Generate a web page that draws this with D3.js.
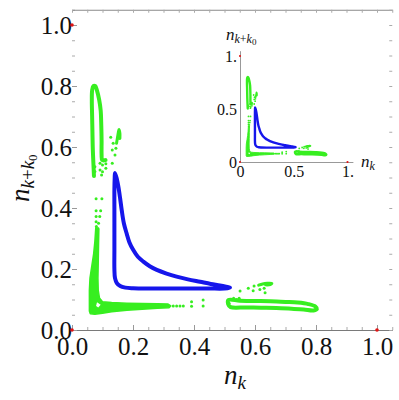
<!DOCTYPE html>
<html><head><meta charset="utf-8">
<script src="https://cdn.jsdelivr.net/npm/d3@7"></script>
<style>
body{margin:0;background:#fff}
svg text{font-family:"Liberation Serif","Times New Roman","DejaVu Serif",serif !important;fill:#111}
</style>
</head><body>
<svg id="chart" width="399" height="400"></svg>
<script>
// ---------- data ----------
const majorTicks = [0, 0.2, 0.4, 0.6, 0.8, 1.0];
const minorTicks = [0.05,0.1,0.15,0.25,0.3,0.35,0.45,0.5,0.55,0.65,0.7,0.75,0.85,0.9,0.95,1.05];
const insetTicks = [0, 0.5, 1];
const insetTickLabels = ["0", "0.5", "1."];

const redPoints = [[0,1],[0,0],[1,0]];

const blueLoop = [
  [0.141,0.515],[0.147,0.495],[0.152,0.470],[0.158,0.430],[0.163,0.393],[0.170,0.350],
  [0.179,0.317],[0.188,0.288],[0.201,0.262],[0.216,0.240],[0.234,0.224],[0.255,0.209],
  [0.278,0.197],[0.310,0.185],[0.343,0.175],[0.380,0.166],[0.420,0.158],[0.455,0.151],
  [0.485,0.146],[0.505,0.142],[0.518,0.139],
  [0.500,0.136],[0.450,0.136],[0.400,0.136],[0.350,0.136],[0.300,0.136],[0.250,0.136],
  [0.200,0.137],[0.175,0.139],[0.158,0.144],[0.147,0.154],[0.141,0.170],[0.139,0.200],
  [0.139,0.260],[0.139,0.330],[0.139,0.400],[0.139,0.460],[0.140,0.500]
];

const greenLoopUpper = [
  [0.072,0.505],[0.070,0.550],[0.068,0.600],[0.067,0.650],[0.066,0.700],[0.065,0.750],
  [0.066,0.785],[0.070,0.800],[0.076,0.800],[0.082,0.785],[0.089,0.755],[0.094,0.720],
  [0.096,0.670],[0.097,0.620],[0.097,0.575],[0.099,0.557],[0.110,0.557]
];

const greenLoopRight = [
  [0.513,0.098],[0.550,0.096],[0.600,0.095],[0.650,0.094],[0.700,0.092],[0.740,0.090],
  [0.775,0.085],[0.798,0.077],[0.803,0.069],[0.792,0.064],[0.760,0.067],[0.720,0.070],
  [0.670,0.072],[0.620,0.073],[0.570,0.074],[0.520,0.075],[0.512,0.085]
];

const greenBand = [
  [0.078,0.335],[0.088,0.330],[0.087,0.280],[0.086,0.220],[0.085,0.170],[0.086,0.130],
  [0.090,0.105],[0.100,0.093],[0.130,0.090],[0.180,0.088],[0.230,0.087],[0.280,0.086],
  [0.315,0.085],[0.324,0.079],[0.318,0.073],[0.280,0.071],[0.230,0.068],[0.180,0.065],
  [0.130,0.060],[0.100,0.055],[0.075,0.052],[0.060,0.053],[0.057,0.062],[0.057,0.090],
  [0.057,0.130],[0.059,0.170],[0.065,0.210],[0.071,0.250],[0.075,0.290]
];
const greenBandHole = [[0.082,0.091],[0.094,0.083],[0.086,0.074],[0.079,0.079]];

const greenArcUpper = [[0.146,0.612],[0.149,0.630],[0.152,0.648],[0.154,0.657],[0.157,0.645],[0.157,0.628]];
const greenArcRight = [[0.612,0.147],[0.625,0.151],[0.640,0.153],[0.655,0.153],[0.650,0.149],[0.635,0.148]];

const greenDots = [
  [0.075,0.535],[0.075,0.520],
  [0.092,0.547],[0.100,0.541],[0.092,0.525],[0.100,0.519],[0.097,0.508],[0.111,0.530],[0.111,0.545],
  [0.127,0.632],[0.135,0.612],[0.132,0.590],[0.144,0.596],[0.141,0.574],[0.132,0.547],
  [0.079,0.430],[0.098,0.430],[0.079,0.391],[0.094,0.391],[0.079,0.372],[0.091,0.372],
  [0.079,0.355],[0.087,0.350],[0.080,0.339],[0.085,0.333],
  [0.332,0.079],[0.343,0.079],[0.354,0.079],[0.365,0.079],[0.392,0.078],[0.392,0.093],
  [0.430,0.079],[0.430,0.098],
  [0.515,0.088],[0.522,0.100],[0.530,0.104],[0.540,0.100],[0.548,0.104],
  [0.551,0.128],[0.578,0.137],[0.597,0.144],[0.594,0.129],[0.616,0.133],[0.630,0.137],[0.633,0.122]
];

// ---------- drawing ----------
const GREEN = "rgb(55,238,32)";
const BLUE = "rgb(22,22,235)";
const RED = "rgb(225,20,20)";
const svg = d3.select("#chart");

function drawData(g, x, y, s) {
  const line = d3.line().x(d => x(d[0])).y(d => y(d[1]));
  g.append("path").datum(greenBand)
    .attr("d", line.curve(d3.curveLinearClosed))
    .attr("fill", GREEN).attr("stroke", GREEN).attr("stroke-width", 1.5*s).attr("stroke-linejoin","round");
  g.append("path").datum(greenBandHole)
    .attr("d", line.curve(d3.curveLinearClosed)).attr("fill", "#fff");
  g.append("path").datum(greenLoopUpper)
    .attr("d", line.curve(d3.curveCatmullRom.alpha(0.5)))
    .attr("fill", "none").attr("stroke", GREEN).attr("stroke-width", 4*s)
    .attr("stroke-linecap","round").attr("stroke-linejoin","round");
  g.append("path").datum(greenLoopRight)
    .attr("d", line.curve(d3.curveCatmullRomClosed.alpha(0.5)))
    .attr("fill", "none").attr("stroke", GREEN).attr("stroke-width", 4*s)
    .attr("stroke-linejoin","round");
  [greenArcUpper, greenArcRight].forEach(a => {
    g.append("path").datum(a)
      .attr("d", line.curve(d3.curveCatmullRom.alpha(0.5)))
      .attr("fill", "none").attr("stroke", GREEN).attr("stroke-width", 3*s)
      .attr("stroke-linecap","round");
  });
  g.selectAll(null).data(greenDots).enter().append("circle")
    .attr("cx", d => x(d[0])).attr("cy", d => y(d[1])).attr("r", 1.5*s).attr("fill", GREEN);
  g.append("path").datum(blueLoop)
    .attr("d", line.curve(d3.curveCatmullRomClosed.alpha(0.5)))
    .attr("fill", "none").attr("stroke", BLUE).attr("stroke-width", 4*s)
    .attr("stroke-linejoin","round");
  g.selectAll(null).data(redPoints).enter().append("circle")
    .attr("cx", d => x(d[0])).attr("cy", d => y(d[1])).attr("r", 1.8*s).attr("fill", RED);
}

// main scales
const x = d3.scaleLinear().domain([0, 1.05]).range([72, 72 + 1.05*305]);
const y = d3.scaleLinear().domain([0, 1.05]).range([330, 330 - 1.05*305]);

// bottom
const gB = svg.append("g").attr("transform", "translate(0,330)");
gB.call(d3.axisBottom(x).tickValues(majorTicks).tickFormat(d3.format(".1f"))
  .tickSize(-5).tickSizeOuter(0).tickPadding(7));
gB.select(".domain").attr("stroke", "#7a7a7a");
gB.selectAll(".tick line").attr("stroke", "#999");
gB.selectAll("text").attr("font-size", 25);
svg.append("g").attr("transform", "translate(0,330)")
  .call(d3.axisBottom(x).tickValues(minorTicks).tickFormat("").tickSize(-3).tickSizeOuter(0))
  .call(g => { g.select(".domain").remove(); g.selectAll("line").attr("stroke", "#aaa"); });

// left
const gL = svg.append("g").attr("transform", "translate(72,0)");
gL.call(d3.axisLeft(y).tickValues(majorTicks).tickFormat(d3.format(".1f"))
  .tickSize(-5).tickSizeOuter(0).tickPadding(0));
gL.select(".domain").remove();
gL.selectAll(".tick line").attr("stroke", "#999");
gL.selectAll("text").attr("font-size", 25);
svg.append("g").attr("transform", "translate(72,0)")
  .call(d3.axisLeft(y).tickValues(minorTicks).tickFormat("").tickSize(-3).tickSizeOuter(0))
  .call(g => { g.select(".domain").remove(); g.selectAll("line").attr("stroke", "#aaa"); });

// top
svg.append("g").attr("transform", `translate(0,${y(1.05)})`)
  .call(d3.axisTop(x).tickValues(majorTicks.concat(minorTicks)).tickFormat("").tickSize(-3).tickSizeOuter(0))
  .call(g => { g.select(".domain").attr("stroke", "#8a8a8a"); g.selectAll(".tick line").attr("stroke", "#aaa"); });

// right
svg.append("g").attr("transform", `translate(${x(1.05)},0)`)
  .call(d3.axisRight(y).tickValues(majorTicks.concat(minorTicks)).tickFormat("").tickSize(-3).tickSizeOuter(0))
  .call(g => { g.select(".domain").remove(); g.selectAll(".tick line").attr("stroke", "#aaa"); });

// main data
drawData(svg.append("g"), x, y, 1);

// axis titles
const xt = svg.append("text").attr("x", 224).attr("y", 384).attr("font-size", 27).attr("font-style", "italic");
xt.append("tspan").text("n");
xt.append("tspan").attr("font-size", 19).attr("dy", 5).text("k");

const yt = svg.append("text").attr("transform", "translate(29,202) rotate(-90)")
  .attr("font-size", 27).attr("font-style", "italic");
yt.append("tspan").text("n");
yt.append("tspan").attr("font-size", 19).attr("dy", 5).text("k");
yt.append("tspan").attr("font-size", 19).attr("font-style", "normal").text("+");
yt.append("tspan").attr("font-size", 19).text("k");
yt.append("tspan").attr("font-size", 13).attr("font-style", "normal").attr("dy", 3).text("0");

// ---------- inset ----------
const xi = d3.scaleLinear().domain([0, 1.05]).range([240, 240 + 1.05*107.5]);
const yi = d3.scaleLinear().domain([0, 1.05]).range([162, 162 - 1.05*106]);
const fmtI = d => insetTickLabels[insetTicks.indexOf(d)];

const gIB = svg.append("g").attr("transform", "translate(0,162)");
gIB.call(d3.axisBottom(xi).tickValues(insetTicks).tickFormat(fmtI).tickSize(0).tickSizeOuter(0).tickPadding(4));
gIB.select(".domain").attr("stroke", "#999");
gIB.selectAll("text").attr("font-size", 16);

const gIL = svg.append("g").attr("transform", "translate(240,0)");
gIL.call(d3.axisLeft(yi).tickValues(insetTicks).tickFormat(fmtI).tickSize(0).tickSizeOuter(0).tickPadding(3));
gIL.select(".domain").attr("stroke", "#999");
gIL.selectAll("text").attr("font-size", 16);

drawData(svg.append("g"), xi, yi, 0.6);

const xti = svg.append("text").attr("x", 361).attr("y", 167).attr("font-size", 17).attr("font-style", "italic");
xti.append("tspan").text("n");
xti.append("tspan").attr("font-size", 12).attr("dy", 3).text("k");

const yti = svg.append("text").attr("x", 226).attr("y", 40).attr("font-size", 17).attr("font-style", "italic");
yti.append("tspan").text("n");
yti.append("tspan").attr("font-size", 12).attr("dy", 3).text("k");
yti.append("tspan").attr("font-size", 12).attr("font-style", "normal").text("+");
yti.append("tspan").attr("font-size", 12).text("k");
yti.append("tspan").attr("font-size", 9).attr("font-style", "normal").attr("dy", 2).text("0");
</script>
</body></html>
